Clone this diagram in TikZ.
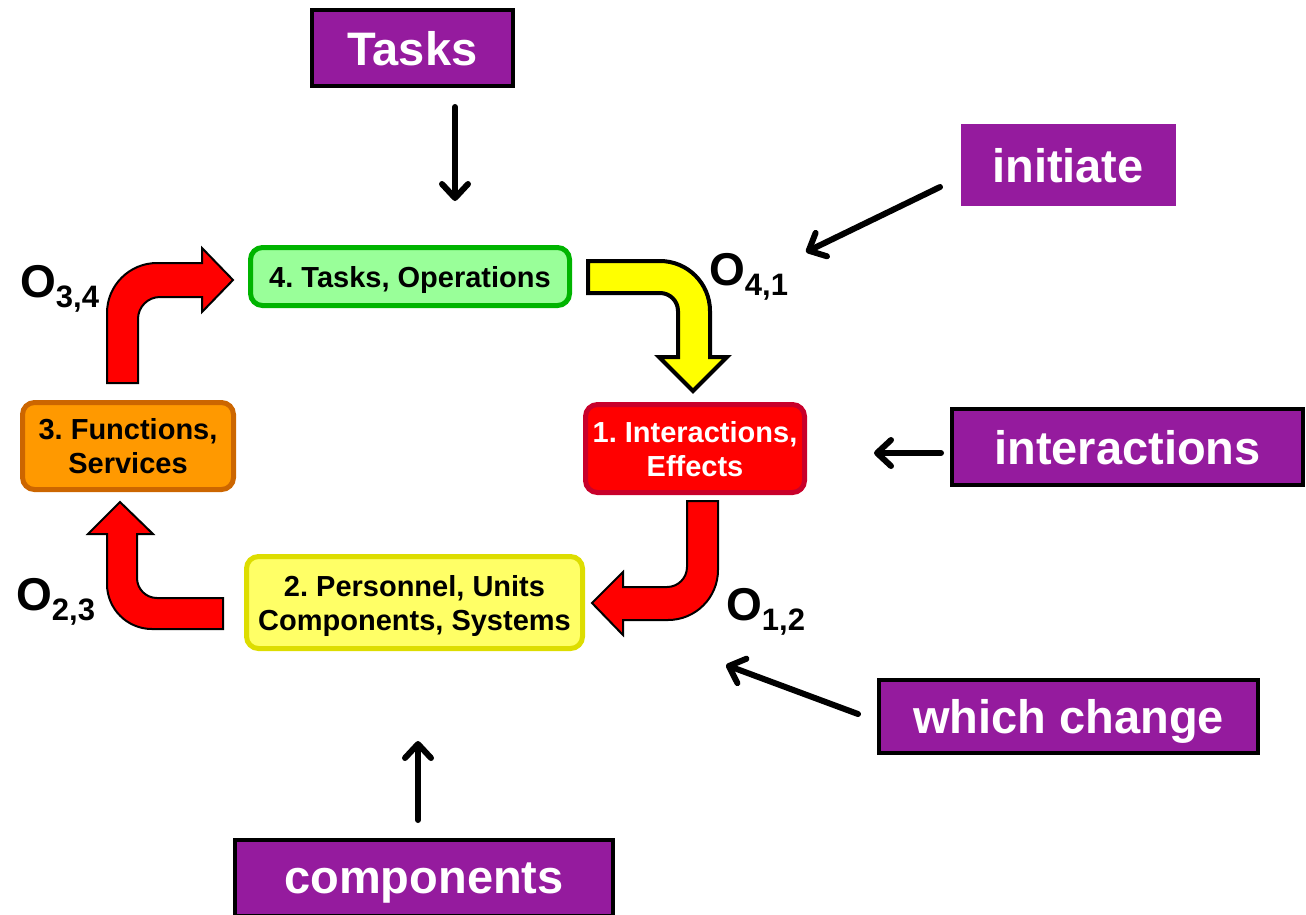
\documentclass[tikz,border=0pt]{standalone}
\usepackage{fontspec}
\setmainfont{Liberation Sans}
\usetikzlibrary{arrows.meta}
\frenchspacing

\definecolor{tagpurple}{HTML}{951B9E}
\definecolor{greenfill}{HTML}{99FF99}
\definecolor{greenline}{HTML}{00B400}
\definecolor{redfill}{HTML}{FF0000}
\definecolor{redline}{HTML}{C8002A}
\definecolor{orangefill}{HTML}{FF9900}
\definecolor{orangeline}{HTML}{CC6600}
\definecolor{yellowfill}{HTML}{FFFF66}
\definecolor{yellowline}{HTML}{DDDD00}
\definecolor{arrowyellow}{HTML}{FFFF00}

\newcommand{\opname}[1]{{\fontsize{46}{46}\selectfont O}\raisebox{-10pt}{\fontsize{31}{31}\selectfont #1}}

\begin{document}
\begin{tikzpicture}[x=1pt,y=-1pt,
  stage/.style={rounded corners=12pt, line width=5pt, align=center, inner sep=0pt,
    text depth=0pt, font=\fontsize{29}{34}\selectfont\bfseries},
  tag/.style={fill=tagpurple, text=white, inner sep=0pt, text depth=0pt,
    font=\fontsize{47}{50}\selectfont\bfseries},
  framedtag/.style={tag, draw=black, line width=4pt},
  pointer/.style={line width=6pt, line cap=round,
    -{Straight Barb[length=14pt,width=26pt,line cap=round,line join=round]}},
  fatarrow/.style={draw=black, line width=2pt, line join=miter, fill=redfill},
  oplabel/.style={anchor=base west, inner sep=0pt, font=\bfseries}
]
\useasboundingbox (0,0) rectangle (1306,914);

% the four stages of the cycle
\node[stage, draw=greenline, fill=greenfill, minimum width=319pt, minimum height=58pt]
  (tasksops) at (410,276.5) {4. Tasks, Operations};
\node[stage, draw=redline, fill=redfill, text=white, minimum width=219pt, minimum height=88pt]
  (interact) at (695,448.5) {1. Interactions,\\Effects};
\node[stage, draw=orangeline, fill=orangefill, minimum width=211pt, minimum height=87pt]
  (functions) at (128,446) {3. Functions,\\Services};
\node[stage, draw=yellowline, fill=yellowfill, minimum width=336pt, minimum height=92pt]
  (personnel) at (414.5,602.5) {2. Personnel, Units\\Components, Systems};

% purple keyword tags
\node[framedtag, minimum width=201pt, minimum height=76pt] (tTasks) at (412.5,48) {Tasks};
\node[tag, minimum width=215pt, minimum height=82pt] (tInitiate) at (1068,165) {initiate};
\node[framedtag, minimum width=351pt, minimum height=76pt] (tInteractions) at (1127.5,447) {interactions};
\node[framedtag, minimum width=379pt, minimum height=73pt] (tChange) at (1068.5,716.5) {which change};
\node[framedtag, minimum width=378pt, minimum height=76pt] (tComponents) at (424,878) {components};

% thin pointers from the tags into the cycle
\coordinate (pTasksA) at (455,107);   \coordinate (pTasksB) at (455,201);
\coordinate (pInitA) at (940,187);    \coordinate (pInitB) at (806,252);
\coordinate (pInterA) at (941,453);   \coordinate (pInterB) at (874,453);
\coordinate (pChangeA) at (858,714);  \coordinate (pChangeB) at (726,665);
\coordinate (pCompA) at (418,820);    \coordinate (pCompB) at (418,741);
\draw[pointer] (pTasksA) -- (pTasksB);
\draw[pointer] (pInitA) -- (pInitB);
\draw[pointer] (pInterA) -- (pInterB);
\draw[pointer] (pChangeA) -- (pChangeB);
\draw[pointer] (pCompA) -- (pCompB);

% bent block arrows between the stages
% O_{3,4}: functions -> tasks/operations
\path[fatarrow] (107,383) -- (107,313)
  .. controls (107,285.4) and (129.4,263) .. (157,263)
  -- (202,263) -- (202,248) -- (233,280) -- (202,312) -- (202,297) -- (160,297)
  .. controls (147.85,297) and (138,306.85) .. (138,319)
  -- (138,383) -- cycle;
% O_{4,1}: tasks/operations -> interactions
\path[fatarrow, fill=arrowyellow, line width=4pt] (588,261) -- (660,261)
  .. controls (687.6,261) and (710,283.4) .. (710,311)
  -- (710,357) -- (727,357) -- (693,391) -- (659,357) -- (678,357) -- (678,311)
  .. controls (678,301.06) and (669.94,293) .. (660,293)
  -- (588,293) -- cycle;
% O_{1,2}: interactions -> personnel
\path[fatarrow] (687,501) -- (718,501) -- (718,570)
  .. controls (718,597.6) and (695.6,620) .. (668,620)
  -- (623,620) -- (623,635) -- (592,603) -- (623,572) -- (623,587) -- (667,587)
  .. controls (678.05,587) and (687,578.05) .. (687,567) -- cycle;
% O_{2,3}: personnel -> functions
\path[fatarrow] (223,598) -- (223,629) -- (152,629)
  .. controls (127.15,629) and (107,608.85) .. (107,584)
  -- (107,534) -- (88,534) -- (120,502) -- (153,534) -- (137,534) -- (137,578)
  .. controls (137,589.05) and (145.95,598) .. (157,598) -- cycle;

% operator labels
\node[oplabel] (o34) at (20,297) {\opname{3,4}};
\node[oplabel] (o41) at (709,285) {\opname{4,1}};
\node[oplabel] (o12) at (726,620) {\opname{1,2}};
\node[oplabel] (o23) at (16,610) {\opname{2,3}};
\end{tikzpicture}
\end{document}
